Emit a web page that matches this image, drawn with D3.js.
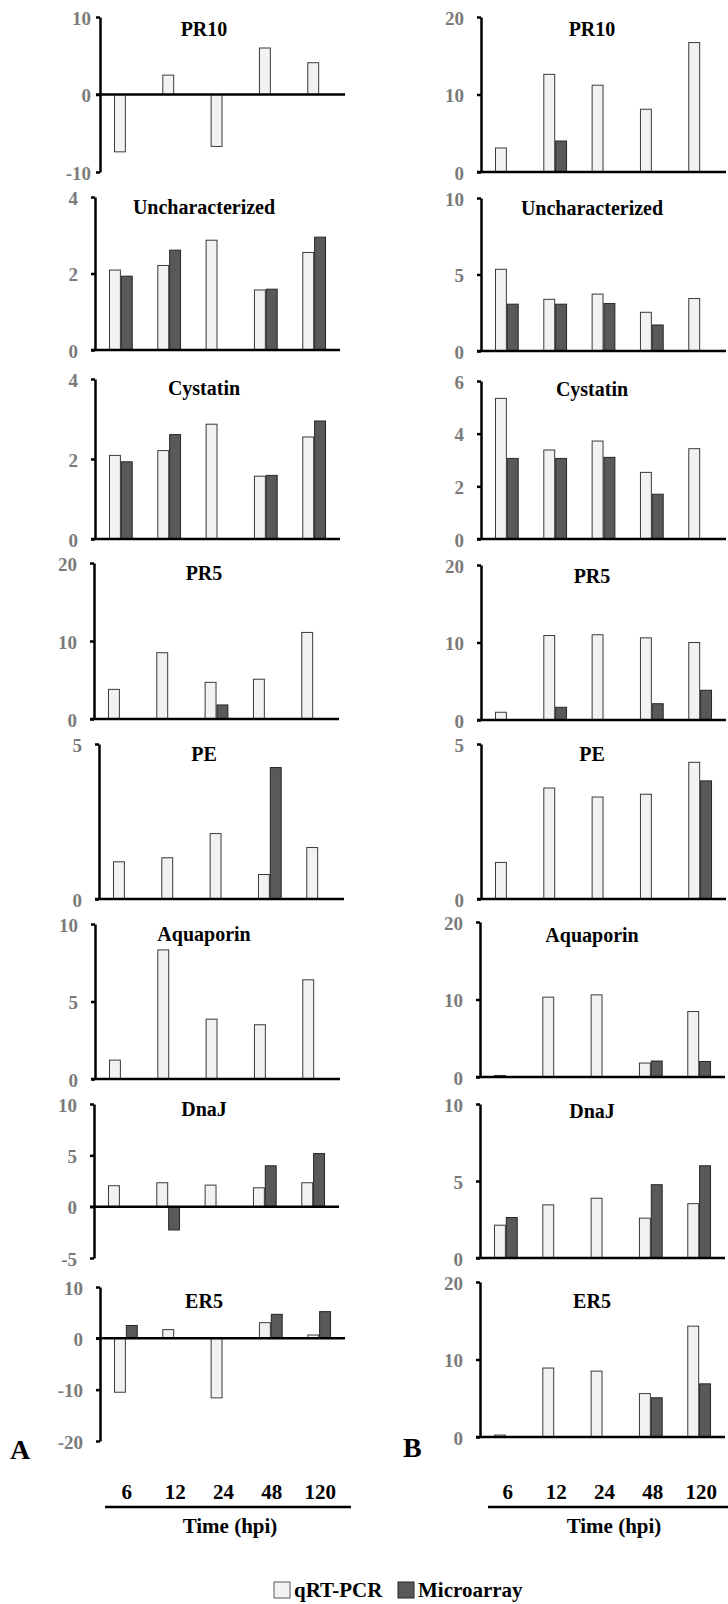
<!DOCTYPE html>
<html>
<head>
<meta charset="utf-8">
<script src="https://d3js.org/d3.v7.min.js"></script>
<style>
  body { margin: 0; background: #fff; }
  text { font-family: "Liberation Serif", "Times New Roman", serif; font-weight: bold; }
  .tick text { fill: #7a7a7a; font-size: 19px; }
</style>
</head>
<body>
<div class="chart"></div>
<script>
// time points (hpi)
var times = ["6", "12", "24", "48", "120"];
var genes = ["PR10", "Uncharacterized", "Cystatin", "PR5", "PE", "Aquaporin", "DnaJ", "ER5"];

// panel A - qRT-PCR and microarray fold changes
var qrtA_PR10 = [-7.4, 2.5, -6.7, 6.0, 4.1];
var micA_PR10 = [null, null, null, null, null];
var qrtA_Unchar = [2.09, 2.21, 2.87, 1.57, 2.55];
var micA_Unchar = [1.93, 2.61, null, 1.59, 2.95];
var qrtA_Cyst = [2.09, 2.21, 2.87, 1.57, 2.55];
var micA_Cyst = [1.93, 2.61, null, 1.59, 2.95];
var qrtA_PR5 = [3.8, 8.5, 4.7, 5.1, 11.1];
var micA_PR5 = [null, null, 1.8, null, null];
var qrtA_PE = [1.2, 1.33, 2.11, 0.79, 1.66];
var micA_PE = [null, null, null, 4.24, null];
var qrtA_Aqua = [1.22, 8.33, 3.86, 3.5, 6.4];
var micA_Aqua = [null, null, null, null, null];
var qrtA_DnaJ = [2.04, 2.33, 2.1, 1.84, 2.33];
var micA_DnaJ = [null, -2.27, null, 3.98, 5.17];
var qrtA_ER5 = [-10.5, 1.7, -11.6, 3.05, 0.65];
var micA_ER5 = [2.5, null, null, 4.68, 5.2];

// panel B
var qrtB_PR10 = [3.1, 12.6, 11.2, 8.1, 16.7];
var micB_PR10 = [null, 4.0, null, null, null];
var qrtB_Unchar = [5.34, 3.38, 3.72, 2.53, 3.43];
var micB_Unchar = [3.06, 3.06, 3.1, 1.7, null];
var qrtB_Cyst = [5.34, 3.38, 3.72, 2.53, 3.43];
var micB_Cyst = [3.06, 3.06, 3.1, 1.7, null];
var qrtB_PR5 = [1.0, 10.9, 11.0, 10.6, 10.0];
var micB_PR5 = [null, 1.64, null, 2.1, 3.84];
var qrtB_PE = [1.18, 3.58, 3.29, 3.38, 4.41];
var micB_PE = [null, null, null, null, 3.81];
var qrtB_Aqua = [0.2, 10.3, 10.6, 1.8, 8.45];
var micB_Aqua = [null, null, null, 2.06, 2.0];
var qrtB_DnaJ = [2.13, 3.45, 3.88, 2.59, 3.53];
var micB_DnaJ = [2.63, null, null, 4.76, 5.99];
var qrtB_ER5 = [0.25, 8.9, 8.5, 5.6, 14.3];
var micB_ER5 = [null, null, null, 5.06, 6.86];

// y axis domains and tick values
var domainsA = [[-10, 10], [0, 4], [0, 4], [0, 20], [0, 5], [0, 10], [-5, 10], [-20, 10]];
var ticksA = [[-10, 0, 10], [0, 2, 4], [0, 2, 4], [0, 10, 20], [0, 5], [0, 5, 10], [-5, 0, 5, 10], [-20, -10, 0, 10]];
var domainsB = [[0, 20], [0, 10], [0, 6], [0, 20], [0, 5], [0, 20], [0, 10], [0, 20]];
var ticksB = [[0, 10, 20], [0, 5, 10], [0, 2, 4, 6], [0, 10, 20], [0, 5], [0, 10, 20], [0, 5, 10], [0, 10, 20]];

var qrtA = [qrtA_PR10, qrtA_Unchar, qrtA_Cyst, qrtA_PR5, qrtA_PE, qrtA_Aqua, qrtA_DnaJ, qrtA_ER5];
var micA = [micA_PR10, micA_Unchar, micA_Cyst, micA_PR5, micA_PE, micA_Aqua, micA_DnaJ, micA_ER5];
var qrtB = [qrtB_PR10, qrtB_Unchar, qrtB_Cyst, qrtB_PR5, qrtB_PE, qrtB_Aqua, qrtB_DnaJ, qrtB_ER5];
var micB = [micB_PR10, micB_Unchar, micB_Cyst, micB_PR5, micB_PE, micB_Aqua, micB_DnaJ, micB_ER5];

// layout of the small panels (pasted excel charts, so not perfectly even)
var layoutA = {
  axisX: [100, 95, 95, 94, 99, 95, 94, 100],
  top: [17, 197, 379, 563, 744, 924, 1104, 1287],
  bottom: [172, 350, 539, 719, 899, 1079, 1258, 1441],
  titleDy: [19, 17, 16, 17, 17, 17, 12, 21],
  titleX: 204,
  pad: [5, 13, 13, 13, 13, 13, 13, 13]
};
var layoutB = {
  axisX: [481, 481, 481, 481, 481, 480, 480, 480],
  top: [17, 198, 381, 565, 744, 922, 1104, 1282],
  bottom: [172, 351, 539, 720, 899, 1077, 1258, 1437],
  titleDy: [19, 17, 15, 18, 17, 20, 14, 26],
  titleX: 592,
  pad: [13, 13, 13, 13, 13, 13, 13, 13]
};
var plotWidth = 245;

var svg = d3.select(".chart")
  .append("svg")
  .attr("width", 728)
  .attr("height", 1604);

var x0 = d3.scaleBand()
  .domain(times)
  .range([0, plotWidth])
  .paddingInner(0.49)
  .paddingOuter(0.28);

var x1 = d3.scaleBand()
  .domain(["qrt", "mic"])
  .range([0, x0.bandwidth()])
  .padding(0.08);

function drawPanel(i, layout, domain, ticks, qrt, mic) {
  var ax = layout.axisX[i];
  var y = d3.scaleLinear()
    .domain(domain)
    .range([layout.bottom[i], layout.top[i]]);

  var g = svg.append("g");

  var rows = times.map(function (t, k) {
    return { time: t, qrt: qrt[k], mic: mic[k] };
  });

  // bars
  ["qrt", "mic"].forEach(function (key) {
    g.selectAll(".bar-" + key)
      .data(rows.filter(function (d) { return d[key] != null; }))
      .enter()
      .append("rect")
      .attr("x", d => ax + x0(d.time) + x1(key))
      .attr("y", d => Math.min(y(d[key]), y(0)))
      .attr("width", x1.bandwidth())
      .attr("height", d => Math.abs(y(d[key]) - y(0)))
      .attr("fill", key == "qrt" ? "#f2f2f2" : "#595959")
      .attr("stroke", key == "qrt" ? "#3a3a3a" : "#262626")
      .attr("stroke-width", 1);
  });

  // y axis (plain hyphen for negatives, like the original)
  var leftAxis = d3.axisLeft(y)
    .tickValues(ticks)
    .tickSize(4)
    .tickSizeOuter(0)
    .tickPadding(layout.pad[i])
    .tickFormat(d => String(d));

  var yAxis = g.append("g")
    .attr("transform", `translate(${ax}, 0)`)
    .call(leftAxis);
  yAxis.select(".domain").attr("stroke", "#000").attr("stroke-width", 2.5);
  yAxis.selectAll(".tick line").attr("stroke", "#000").attr("stroke-width", 2.5);
  yAxis.selectAll(".tick text").attr("dy", "0.38em");

  // zero line / category axis
  g.append("line")
    .attr("x1", ax - 4)
    .attr("x2", ax + plotWidth)
    .attr("y1", y(0))
    .attr("y2", y(0))
    .attr("stroke", "#000")
    .attr("stroke-width", 2.5);

  // gene title
  g.append("text")
    .attr("x", layout.titleX)
    .attr("y", layout.top[i] + layout.titleDy[i])
    .attr("text-anchor", "middle")
    .style("font-size", "20px")
    .text(genes[i]);
}

genes.forEach(function (gene, i) {
  drawPanel(i, layoutA, domainsA[i], ticksA[i], qrtA[i], micA[i]);
  drawPanel(i, layoutB, domainsB[i], ticksB[i], qrtB[i], micB[i]);
});

// panel letters
svg.append("text").attr("x", 10).attr("y", 1459).style("font-size", "28px").text("A");
svg.append("text").attr("x", 403).attr("y", 1457).style("font-size", "28px").text("B");

// shared time axis labels under each column
[{ ax: 100, x1: 105, x2: 351, mid: 230 }, { ax: 481, x1: 488, x2: 728, mid: 614 }].forEach(function (c) {
  svg.append("g")
    .selectAll("text")
    .data(times)
    .enter()
    .append("text")
    .attr("x", d => c.ax + x0(d) + x0.bandwidth() / 2 + 1)
    .attr("y", 1499)
    .attr("text-anchor", "middle")
    .style("font-size", "21px")
    .text(d => d);

  svg.append("line")
    .attr("x1", c.x1)
    .attr("x2", c.x2)
    .attr("y1", 1507)
    .attr("y2", 1507)
    .attr("stroke", "#000")
    .attr("stroke-width", 2.5);

  svg.append("text")
    .attr("x", c.mid)
    .attr("y", 1533)
    .attr("text-anchor", "middle")
    .style("font-size", "21px")
    .text("Time (hpi)");
});

// legend
var legendItems = [
  { label: "qRT-PCR", fill: "#f2f2f2", stroke: "#595959", x: 274 },
  { label: "Microarray", fill: "#595959", stroke: "#262626", x: 398 }
];
var legend = svg.append("g");
legend.selectAll("rect")
  .data(legendItems)
  .enter()
  .append("rect")
  .attr("x", d => d.x)
  .attr("y", 1582)
  .attr("width", 16)
  .attr("height", 16)
  .attr("fill", d => d.fill)
  .attr("stroke", d => d.stroke);
legend.selectAll("text")
  .data(legendItems)
  .enter()
  .append("text")
  .attr("x", d => d.x + 20)
  .attr("y", 1597)
  .style("font-size", "21px")
  .text(d => d.label);
</script>
</body>
</html>
